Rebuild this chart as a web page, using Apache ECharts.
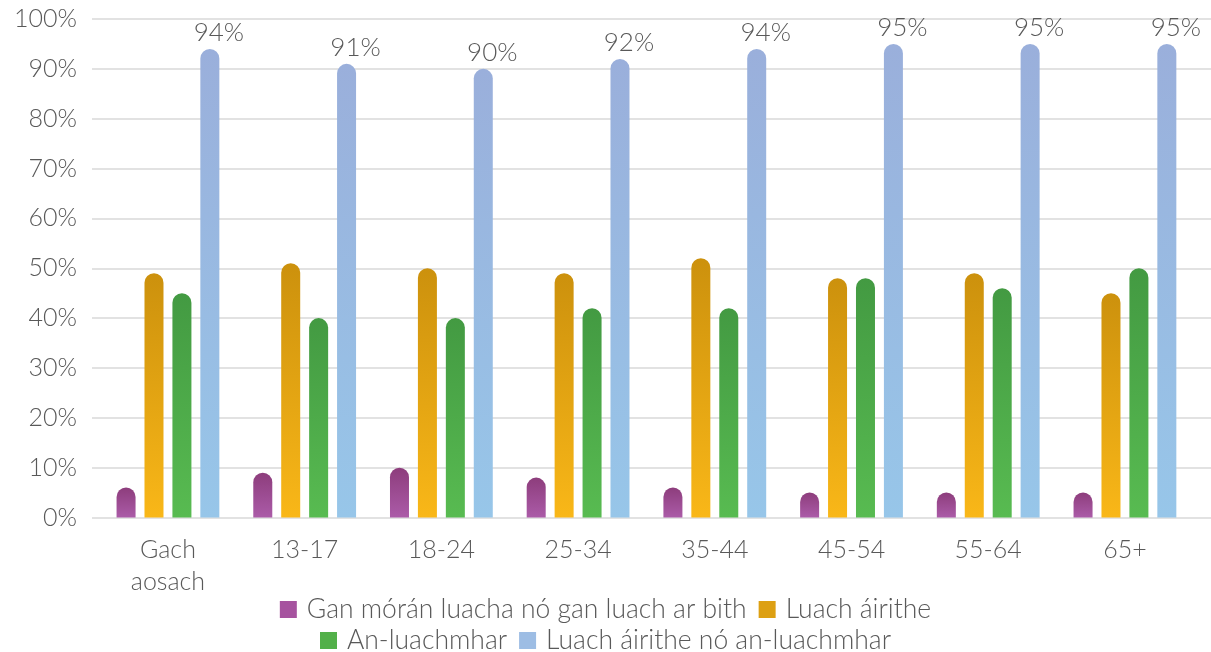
<!DOCTYPE html>
<html>
<head>
<meta charset="utf-8">
<script src="https://cdn.jsdelivr.net/npm/echarts@6/dist/echarts.min.js"></script>
<style>
html,body{margin:0;padding:0;background:#fff;}
#chart{width:1211px;height:652px;}
</style>
</head>
<body>
<div id="chart"></div>
<script>
const categories = ['Gach\naosach', '13-17', '18-24', '25-34', '35-44', '45-54', '55-64', '65+'];
const seriesNames = ['Gan mórán luacha nó gan luach ar bith', 'Luach áirithe', 'An-luachmhar', 'Luach áirithe nó an-luachmhar'];
const littleOrNone = [6, 9, 10, 8, 6, 5, 5, 5];
const someValue = [49, 51, 50, 49, 52, 48, 49, 45];
const veryValuable = [45, 40, 40, 42, 42, 48, 46, 50];
const someOrVery = [94, 91, 90, 92, 94, 95, 95, 95];
const yTicks = [0, 10, 20, 30, 40, 50, 60, 70, 80, 90, 100];

const FONT = 'Lato, "Open Sans", sans-serif';
const TXT = '#595959';
const FS = 25;
function grad(top, bottom) {
  return new echarts.graphic.LinearGradient(0, 0, 0, 1, [
    {offset: 0, color: top}, {offset: 1, color: bottom}
  ]);
}
const tops = ['#8d3d7c', '#cc910d', '#439a42', '#9aafdb'];
const bottoms = ['#ab5ba8', '#f9b718', '#58bb51', '#97c6e9'];
const legendColors = ['#a6539f', '#dda013', '#52b049', '#9dbde4'];
const values = [littleOrNone, someValue, veryValuable, someOrVery];

const chart = echarts.init(document.getElementById('chart'), null, {renderer: 'canvas'});
const series = values.map((v, i) => ({
  name: seriesNames[i],
  type: 'bar',
  xAxisIndex: 1,
  yAxisIndex: 1,
  data: v,
  barWidth: 19,
  barGap: '47%',
  itemStyle: {color: grad(tops[i], bottoms[i]), borderRadius: [9.5, 9.5, 0, 0]},
  label: i === 3 ? {
    show: true, position: 'top', distance: 3, offset: [9, 0],
    formatter: '{c}%', color: TXT, fontSize: 26, fontFamily: FONT, fontWeight: 300
  } : {show: false},
  emphasis: {disabled: true}
}));

const legendText = {color: TXT, fontSize: 26.5, fontFamily: FONT, fontWeight: 300, padding: [0, 0, 0, 5]};
chart.setOption({
  animation: false,
  backgroundColor: '#fff',
  grid: [
    {left: 92, right: 0, top: 19, bottom: 134.5},
    {left: 99.6, right: 17.7, top: 19, bottom: 134.5}
  ],
  legend: [
    {
      data: [0, 1].map(i => ({name: seriesNames[i], itemStyle: {color: legendColors[i]}})),
      top: 591, left: 'center', icon: 'rect', itemWidth: 17, itemHeight: 17, itemGap: 12,
      textStyle: legendText, selectedMode: false
    },
    {
      data: [2, 3].map(i => ({name: seriesNames[i], itemStyle: {color: legendColors[i]}})),
      top: 622, left: 'center', icon: 'rect', itemWidth: 17, itemHeight: 17, itemGap: 12,
      textStyle: legendText, selectedMode: false
    }
  ],
  xAxis: [
    {gridIndex: 0, type: 'value', show: false},
    {
      gridIndex: 1, type: 'category', data: categories,
      axisLine: {show: false}, axisTick: {show: false},
      axisLabel: {color: TXT, fontSize: FS, fontFamily: FONT, fontWeight: 300, lineHeight: 32, margin: 16, interval: 0}
    }
  ],
  yAxis: [
    {
      gridIndex: 0, type: 'value', min: yTicks[0], max: yTicks[yTicks.length - 1], interval: 10,
      axisLine: {show: false}, axisTick: {show: false},
      axisLabel: {color: TXT, fontSize: FS, fontFamily: FONT, fontWeight: 300, margin: 15, formatter: '{value}%'},
      splitLine: {lineStyle: {color: '#d9d9d9', width: 1.5}}
    },
    {
      gridIndex: 1, type: 'value', min: 0, max: 100, interval: 10, show: false
    }
  ],
  series: series
});
</script>
</body>
</html>
